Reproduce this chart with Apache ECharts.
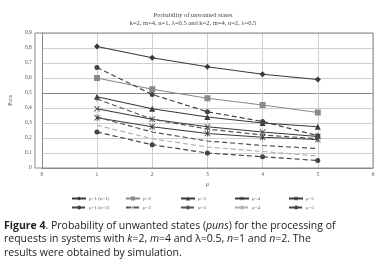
<!DOCTYPE html>
<html>
<head>
<meta charset="utf-8">
<script src="https://cdn.jsdelivr.net/npm/echarts@6/dist/echarts.min.js"></script>
<style>
  html, body { margin: 0; padding: 0; background: #fff; }
  #chart { width: 386px; height: 277px; }
</style>
</head>
<body>
<div id="chart"></div>
<script>
// x values (mu)
const xVals = [1, 2, 3, 4, 5];
const yTicks = [0, 0.1, 0.2, 0.3, 0.4, 0.5, 0.6, 0.7, 0.8, 0.9];

// n=1 (solid lines)
const mu1n1 = [0.81, 0.735, 0.675, 0.625, 0.59];
const mu2n1 = [0.60, 0.525, 0.465, 0.42, 0.37];
const mu3n1 = [0.475, 0.395, 0.34, 0.30, 0.275];
const mu4n1 = [0.395, 0.325, 0.275, 0.24, 0.21];
const mu5n1 = [0.335, 0.275, 0.23, 0.205, 0.19];

// n=2 (dashed lines)
const mu1n2 = [0.67, 0.49, 0.375, 0.31, 0.215];
const mu2n2 = [0.46, 0.325, 0.26, 0.22, 0.195];
const mu3n2 = [0.34, 0.24, 0.18, 0.15, 0.13];
const mu4n2 = [0.285, 0.195, 0.14, 0.11, 0.08];
const mu5n2 = [0.24, 0.155, 0.10, 0.075, 0.05];

const crossPath = "path://M0,1L1,0L5,4L9,0L10,1L6,5L10,9L9,10L5,6L1,10L0,9L4,5Z";
const starPath = "path://M0,1L1,0L5,4L9,0L10,1L6,5L10,9L9,10L5,6L1,10L0,9L4,5Z M4.4,0L5.6,0L5.6,10L4.4,10Z";
const plusPath = "path://M4.3,0H5.7V4.3H10V5.7H5.7V10H4.3V5.7H0V4.3H4.3Z";

function pts(arr) {
  return arr.map((v, i) => [xVals[i], v]);
}

function mkSeries(name, data, color, dashed, symbol, size) {
  return {
    name: name,
    type: "line",
    data: pts(data),
    symbol: symbol,
    symbolSize: size,
    showSymbol: symbol !== "none",
    animation: false,
    lineStyle: { color: color, width: 1.2, type: dashed ? [5, 3] : "solid" },
    itemStyle: { color: color },
    emphasis: { disabled: true }
  };
}

const series = [
  mkSeries("μ=1 (n=1)", mu1n1, "#3a3a3a", false, "diamond", 6),
  mkSeries("μ=2", mu2n1, "#8a8a8a", false, "rect", 6),
  mkSeries("μ=3", mu3n1, "#3a3a3a", false, "triangle", 6),
  mkSeries("μ=4", mu4n1, "#3a3a3a", false, crossPath, 6),
  mkSeries("μ=5", mu5n1, "#3a3a3a", false, starPath, 6),
  mkSeries("μ=1 (n=2)", mu1n2, "#444", true, "circle", 5),
  mkSeries("μ=2 ", mu2n2, "#555", true, plusPath, 5),
  mkSeries("μ=3 ", mu3n2, "#555", true, "none", 0),
  mkSeries("μ=4 ", mu4n2, "#b0b0b0", true, "none", 0),
  mkSeries("μ=5 ", mu5n2, "#444", true, "circle", 5)
];

const legendCols = [
  ["μ=1 (n=1)", "μ=1 (n=2)"],
  ["μ=2", "μ=2 "],
  ["μ=3", "μ=3 "],
  ["μ=4", "μ=4 "],
  ["μ=5", "μ=5 "]
];
const legendX = [66, 120, 175, 229, 283];

const legends = legendCols.map((d, i) => ({
  data: d,
  orient: "vertical",
  left: legendX[i],
  top: 191,
  itemGap: 4,
  itemWidth: 14,
  itemHeight: 5,
  selectedMode: false,
  formatter: n => n.trim(),
  textStyle: { fontSize: 5, color: "#555", fontFamily: "Liberation Serif", padding: [0, 0, 0, -2] }
}));

const gridColors = yTicks.map(v => (Math.abs(v - 0.5) < 1e-6 ? "#8a8a8a" : "#cfcfcf"));

const chart = echarts.init(document.getElementById("chart"), null, { renderer: "canvas" });
chart.setOption({
  backgroundColor: "#fff",
  animation: false,
  title: {
    text: "Probability of unwanted states\nk=2, m=4, n=1, λ=0.5 and k=2, m=4, n=2, λ=0.5",
    left: "center",
    top: 6,
    textStyle: { fontFamily: "Liberation Serif", fontSize: 6.5, fontWeight: "normal", color: "#444", lineHeight: 8 }
  },
  grid: { left: 35, right: 13, top: 33, bottom: 109 },
  legend: legends,
  xAxis: {
    type: "value",
    min: 0,
    max: 6,
    interval: 1,
    name: "μ",
    nameLocation: "middle",
    nameGap: 13,
    nameTextStyle: { fontSize: 6, color: "#555", fontFamily: "Liberation Serif" },
    axisLine: { lineStyle: { color: "#8a8a8a" } },
    axisTick: { show: false },
    axisLabel: { fontSize: 5.5, color: "#555", fontFamily: "Liberation Serif", margin: 4 },
    splitLine: { show: true, lineStyle: { color: "#cfcfcf", width: 1 } }
  },
  yAxis: {
    type: "value",
    min: 0,
    max: 0.9,
    interval: 0.1,
    name: "Puns",
    nameLocation: "middle",
    nameGap: 22,
    nameTextStyle: { fontSize: 5.5, color: "#555", fontFamily: "Liberation Serif" },
    axisLine: { show: true, lineStyle: { color: "#8a8a8a" } },
    axisTick: { show: false },
    axisLabel: {
      fontSize: 5.5,
      color: "#555",
      fontFamily: "Liberation Serif",
      margin: 10,
      formatter: v => (v === 0 ? "0" : v.toFixed(1).replace(".", ","))
    },
    splitLine: { show: true, lineStyle: { color: gridColors, width: 1 } }
  },
  graphic: [
    {
      type: "rect",
      shape: { x: 35, y: 33, width: 338, height: 135 },
      style: { fill: "none", stroke: "#8a8a8a", lineWidth: 1 },
      silent: true,
      z: 10
    },
    {
      type: "text",
      left: 4,
      top: 219,
      style: {
        text: "{b|Figure 4}. Probability of unwanted states ({i|puns}) for the processing of\nrequests in systems with {i|k}=2, {i|m}=4 and λ=0.5, {i|n}=1 and {i|n}=2. The\nresults were obtained by simulation.",
        font: "10.5px 'Open Sans'",
        fill: "#222",
        lineHeight: 13.5,
        rich: {
          b: { fontWeight: "bold", fontSize: 10.5, fontFamily: "Open Sans", fill: "#222", lineHeight: 13.5 },
          i: { fontStyle: "italic", fontSize: 10.5, fontFamily: "Open Sans", fill: "#222", lineHeight: 13.5 }
        }
      }
    }
  ],
  series: series
});
</script>
</body>
</html>
